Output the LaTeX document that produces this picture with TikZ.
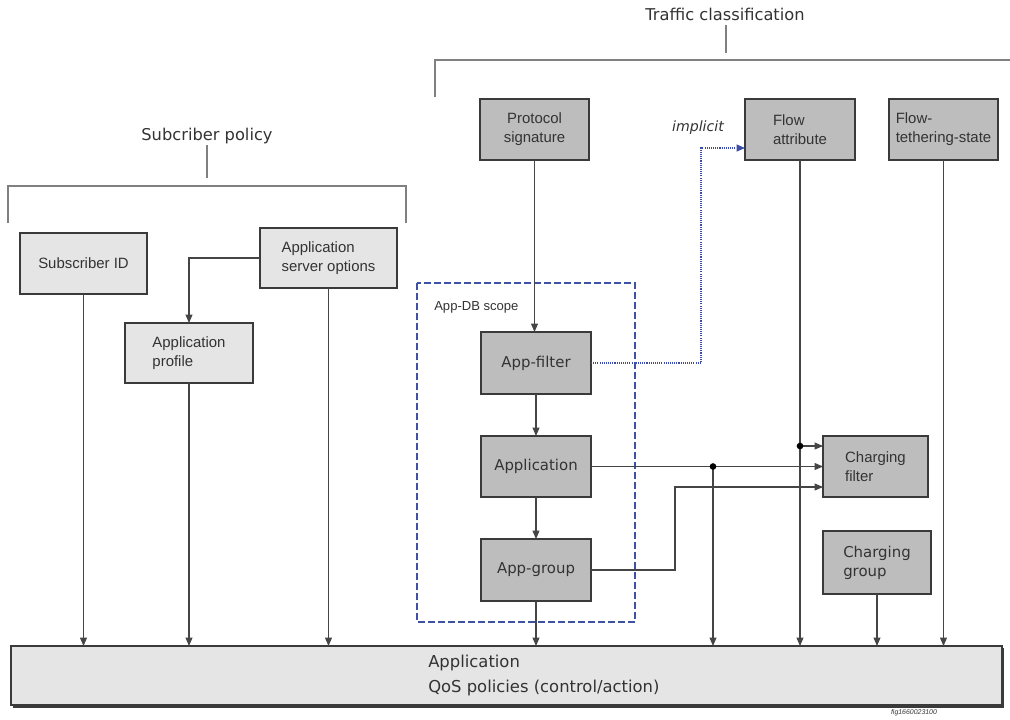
\documentclass[tikz,border=0pt]{standalone}
\usepackage{fontspec}
\setmainfont{Liberation Sans}
\newfontfamily\dvs{DejaVu Sans}
\usetikzlibrary{arrows.meta}
\definecolor{txt}{HTML}{333333}
\definecolor{edge}{HTML}{3A3A3A}
\definecolor{wire}{HTML}{454545}
\definecolor{lightfill}{HTML}{E5E5E5}
\definecolor{darkfill}{HTML}{BDBDBD}
\definecolor{bracket}{HTML}{808080}
\definecolor{scopeblue}{HTML}{3F51A3}
\definecolor{implblue}{HTML}{3A4CA6}
\tikzset{
  x=0.75pt, y=-0.75pt,
  boxbase/.style={draw=edge, line width=1.6pt, inner sep=0pt, outer sep=0pt,
    text=txt, align=left, font=\fontsize{11.2pt}{14.2pt}\selectfont},
  lightbox/.style={boxbase, fill=lightfill},
  darkbox/.style={boxbase, fill=darkfill},
  bigtext/.style={font=\dvs\fontsize{11.2pt}{14.2pt}\selectfont},
  heading/.style={text=txt, inner sep=0pt, font=\dvs\fontsize{12.2pt}{15pt}\selectfont},
  wireline/.style={draw=wire, line width=0.8pt},
  tip/.style={-{Triangle[length=6.3pt,width=5.2pt]}},
  flow/.style={wireline, tip},
  brk/.style={draw=bracket, line width=1pt},
  junction/.style={circle, fill=black, inner sep=0pt, minimum size=5pt},
}
\begin{document}
\begin{tikzpicture}
\useasboundingbox (0,0) rectangle (1010,719);

% --- group headings with their brackets
\node[heading] (tc) at (725,14) {Traffic classification};
\draw[brk] (726,25) -- (726,53);
\draw[brk] (435,97) -- (435,60) -- (1010,60);

\node[heading] (sp) at (207,136) {Subcriber policy};
\draw[brk] (207,145) -- (207,178);
\draw[brk] (8,223) -- (8,186) -- (406,186) -- (406,223);

% --- App-DB scope frame
\draw[scopeblue, line width=1.5pt, dash pattern=on 5pt off 2.5pt] (417,283) rectangle (635,622);
\node[text=txt, inner sep=0pt, font=\fontsize{9.8pt}{12pt}\selectfont, anchor=west] (dbs) at (434,307) {App-DB scope};

% --- subscriber policy boxes
\node[lightbox, minimum width=95.25pt, minimum height=45.75pt] (sid) at (83.5,263.5) {Subscriber ID};
\node[lightbox, minimum width=102.75pt, minimum height=45pt] (aso) at (328.5,258) {Application\\server options};
\node[lightbox, minimum width=96pt, minimum height=45pt] (apr) at (189,353) {Application\\profile};

% --- traffic classification boxes
\node[darkbox, minimum width=81.75pt, minimum height=45.75pt, align=center] (ps) at (534.5,129.5) {Protocol\\signature};
\node[darkbox, minimum width=82.5pt, minimum height=45.75pt] (fa) at (800,129.5) {Flow\\attribute};
\node[darkbox, minimum width=81.75pt, minimum height=45.75pt] (fts) at (943.5,129.5) {Flow-\\tethering-state};

\node[darkbox, bigtext, minimum width=82.5pt, minimum height=46.5pt] (af) at (536,363) {App-filter};
\node[darkbox, bigtext, minimum width=82.5pt, minimum height=45.75pt] (app) at (536,466.5) {Application};
\node[darkbox, bigtext, minimum width=82.5pt, minimum height=46.5pt] (ag) at (536,570) {App-group};

\node[darkbox, minimum width=78.75pt, minimum height=45.75pt] (cf) at (875.5,466.5) {Charging\\filter};
\node[darkbox, bigtext, minimum width=81pt, minimum height=47.25pt] (cg) at (877,562.5) {Charging\\group};

% --- policy bar at the bottom
\fill[edge] (13,648) rectangle (1004,708);
\node[lightbox, line width=1.4pt, minimum width=743.25pt, minimum height=44.25pt] (bot) at (506.5,675.5) {};
\node[text=txt, inner sep=0pt, anchor=west, align=left, font=\dvs\fontsize{12.3pt}{18.5pt}\selectfont] (bottxt) at (428,675.5) {Application\\QoS policies (control/action)};

\node[text=txt, inner sep=0pt, font=\fontsize{5.2pt}{6pt}\selectfont\itshape\rmfamily] (fig) at (914,713) {fig1660023100};

% --- subscriber side connectors
\draw[flow] (sid.south) -- (sid.south |- bot.north);
\draw[flow] (apr.south) -- (apr.south |- bot.north);
\draw[flow] (aso.south) -- (aso.south |- bot.north);
\draw[flow] (aso.west) -| (apr.north);

% --- App-DB chain
\draw[flow] (ps.south) -- (ps.south |- af.north);
\draw[flow] (af.south) -- (app.north);
\draw[flow] (app.south) -- (ag.north);
\draw[flow] (ag.south) -- (ag.south |- bot.north);

% --- implicit flow attribute
\coordinate (ibend) at (701,148);
\draw[implblue, line width=1pt, dash pattern=on 0.8pt off 0.8pt, tip]
  (af.east) -| (ibend) -- (fa.west |- ibend);
\node[text=txt, inner sep=0pt, font=\dvs\fontsize{10.6pt}{12pt}\selectfont\itshape] (impl) at (698,128) {implicit};

% --- inputs to the charging filter
\coordinate (jfa) at (800,446);
\coordinate (japp) at (713,466.5);
\coordinate (agbend) at (675,487);
\draw[flow] (fa.south) -- (fa.south |- bot.north);
\draw[flow] (jfa) -- (cf.west |- jfa);
\draw[flow] (app.east) -- (cf.west |- app.east);
\draw[flow] (japp) -- (japp |- bot.north);
\draw[flow] (ag.east) -| (agbend) -- (cf.west |- agbend);
\node[junction] (dfa) at (jfa) {};
\node[junction] (dapp) at (japp) {};

% --- remaining feeds into the policy bar
\draw[flow] (cg.south) -- (cg.south |- bot.north);
\draw[flow] (fts.south) -- (fts.south |- bot.north);
\end{tikzpicture}
\end{document}
